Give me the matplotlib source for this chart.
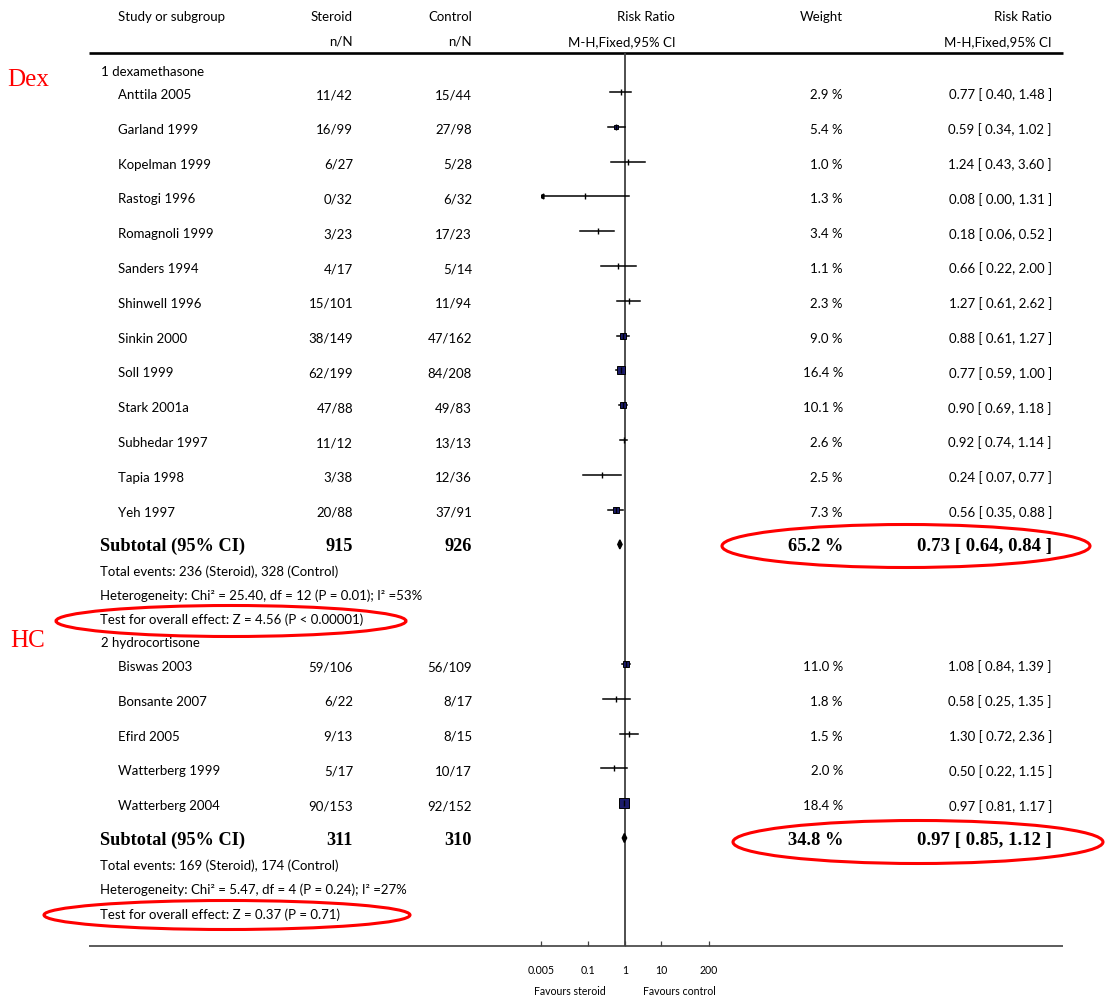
import numpy as np
import matplotlib
matplotlib.use("Agg")
import matplotlib.pyplot as plt
from matplotlib.patches import Ellipse

plt.rcParams['font.family'] = ['Lato', 'DejaVu Sans']

# ---- data: dexamethasone subgroup ----
dex_studies = ["Anttila 2005", "Garland 1999", "Kopelman 1999", "Rastogi 1996",
               "Romagnoli 1999", "Sanders 1994", "Shinwell 1996", "Sinkin 2000",
               "Soll 1999", "Stark 2001a", "Subhedar 1997", "Tapia 1998", "Yeh 1997"]
dex_ev_s = [11, 16, 6, 0, 3, 4, 15, 38, 62, 47, 11, 3, 20]
dex_n_s = [42, 99, 27, 32, 23, 17, 101, 149, 199, 88, 12, 38, 88]
dex_ev_c = [15, 27, 5, 6, 17, 5, 11, 47, 84, 49, 13, 12, 37]
dex_n_c = [44, 98, 28, 32, 23, 14, 94, 162, 208, 83, 13, 36, 91]
dex_weight = [2.9, 5.4, 1.0, 1.3, 3.4, 1.1, 2.3, 9.0, 16.4, 10.1, 2.6, 2.5, 7.3]
dex_rr = [0.77, 0.59, 1.24, 0.08, 0.18, 0.66, 1.27, 0.88, 0.77, 0.90, 0.92, 0.24, 0.56]
dex_lo = [0.40, 0.34, 0.43, 0.00, 0.06, 0.22, 0.61, 0.61, 0.59, 0.69, 0.74, 0.07, 0.35]
dex_hi = [1.48, 1.02, 3.60, 1.31, 0.52, 2.00, 2.62, 1.27, 1.00, 1.18, 1.14, 0.77, 0.88]
dex_total = [915, 926]
dex_sub = [65.2, 0.73, 0.64, 0.84]
dex_notes = ["Total events: 236 (Steroid), 328 (Control)",
             "Heterogeneity: Chi² = 25.40, df = 12 (P = 0.01); I² =53%",
             "Test for overall effect: Z = 4.56 (P < 0.00001)"]

# ---- data: hydrocortisone subgroup ----
hc_studies = ["Biswas 2003", "Bonsante 2007", "Efird 2005", "Watterberg 1999", "Watterberg 2004"]
hc_ev_s = [59, 6, 9, 5, 90]
hc_n_s = [106, 22, 13, 17, 153]
hc_ev_c = [56, 8, 8, 10, 92]
hc_n_c = [109, 17, 15, 17, 152]
hc_weight = [11.0, 1.8, 1.5, 2.0, 18.4]
hc_rr = [1.08, 0.58, 1.30, 0.50, 0.97]
hc_lo = [0.84, 0.25, 0.72, 0.22, 0.81]
hc_hi = [1.39, 1.35, 2.36, 1.15, 1.17]
hc_total = [311, 310]
hc_sub = [34.8, 0.97, 0.85, 1.12]
hc_notes = ["Total events: 169 (Steroid), 174 (Control)",
            "Heterogeneity: Chi² = 5.47, df = 4 (P = 0.24); I² =27%",
            "Test for overall effect: Z = 0.37 (P = 0.71)"]

ticks = [0.005, 0.1, 1, 10, 200]
tick_labels = ["0.005", "0.1", "1", "10", "200"]

# ---- layout (pixel coordinates) ----
W, H = 1111, 997
X_NAME, X_HEAD, X_STER, X_CTRL, X_WT, X_RR = 118, 100, 353, 472, 843, 1052
LINE_L, LINE_R, Y_TOP, Y_BOT = 89, 1063, 53, 945.5
STEP = 34.8
FS = 9.5
SERIF = ['Liberation Serif', 'DejaVu Serif']
BOX = '#1b1b6b'

fig = plt.figure(figsize=(W / 100, H / 100), dpi=100)
ax = fig.add_axes([0, 0, 1, 1])
ax.set_xlim(0, W)
ax.set_ylim(H, 0)
ax.axis('off')

fax = fig.add_axes([540.7 / W, (H - Y_BOT) / H, (709 - 540.7) / W, (Y_BOT - Y_TOP) / H])
fax.set_facecolor('none')
fax.set_xscale('log')
fax.set_xlim(0.005, 200)
fax.set_ylim(Y_BOT, Y_TOP)
for s in fax.spines.values():
    s.set_visible(False)
fax.set_yticks([])
fax.minorticks_off()
fax.set_xticks(ticks)
fax.set_xticklabels(tick_labels, fontsize=7.6)
fax.tick_params(axis='x', direction='in', length=3.5, width=0.9, pad=14, color='#404040')
fax.axvline(1, color='#404040', lw=1.3, zorder=1)

# header
for txt, x, ha in [("Study or subgroup", X_NAME, 'left'), ("Steroid", X_STER, 'right'),
                   ("Control", X_CTRL, 'right'), ("Risk Ratio", 675, 'right'),
                   ("Weight", X_WT, 'right'), ("Risk Ratio", X_RR, 'right')]:
    ax.text(x, 17, txt, ha=ha, va='center', fontsize=FS)
for txt, x in [("n/N", X_STER), ("n/N", X_CTRL), ("M-H,Fixed,95% CI", 676), ("M-H,Fixed,95% CI", X_RR)]:
    ax.text(x, 42, txt, ha='right', va='center', fontsize=FS)
ax.plot([LINE_L, LINE_R], [Y_TOP, Y_TOP], color='black', lw=1.9, solid_capstyle='butt')
ax.plot([LINE_L, LINE_R], [Y_BOT, Y_BOT], color='#404040', lw=1.2, solid_capstyle='butt')


def draw_group(heading, y_head, y0, studies, ev_s, n_s, ev_c, n_c, wt, rr, lo, hi,
               total, sub, notes, note_ys):
    ax.text(X_HEAD + 1, y_head, heading, ha='left', va='center', fontsize=FS)
    xmin = fax.get_xlim()[0]
    for i, name in enumerate(studies):
        y = y0 + i * STEP
        ty = y + 3
        ax.text(X_NAME, ty, name, ha='left', va='center', fontsize=FS)
        ax.text(X_STER, ty, f"{ev_s[i]}/{n_s[i]}", ha='right', va='center', fontsize=FS)
        ax.text(X_CTRL, ty, f"{ev_c[i]}/{n_c[i]}", ha='right', va='center', fontsize=FS)
        ax.text(X_WT, ty, f"{wt[i]:.1f} %", ha='right', va='center', fontsize=FS)
        ax.text(X_RR, ty, f"{rr[i]:.2f} [ {lo[i]:.2f}, {hi[i]:.2f} ]", ha='right', va='center', fontsize=FS)
        left = max(lo[i], xmin)
        fax.plot([left, hi[i]], [y, y], color='black', lw=1.1, zorder=2)
        if lo[i] < xmin:
            fax.plot(xmin, y, marker='<', ms=3.5, color='black', zorder=3)
        side = 2.1 * np.sqrt(wt[i]) * 0.72
        if wt[i] >= 5:
            fax.plot(rr[i], y, marker='s', ms=side, mfc=BOX, mec='black', mew=0.7, zorder=3)
        fax.plot(rr[i], y, marker='|', ms=4.5, mew=1.0, color='black', zorder=4)
    ys = y0 + len(studies) * STEP
    ty = ys + 2
    bold = dict(va='center', fontweight='bold', family=SERIF)
    ax.text(X_HEAD, ty, "Subtotal (95% CI)", ha='left', fontsize=13.2, **bold)
    ax.text(X_STER, ty, f"{total[0]}", ha='right', fontsize=13.2, **bold)
    ax.text(X_CTRL, ty, f"{total[1]}", ha='right', fontsize=13.2, **bold)
    ax.text(X_WT, ty, f"{sub[0]:.1f} %", ha='right', fontsize=13.3, **bold)
    ax.text(X_RR, ty, f"{sub[1]:.2f} [ {sub[2]:.2f}, {sub[3]:.2f} ]", ha='right', fontsize=13.5, **bold)
    fax.fill([sub[2], sub[1], sub[3], sub[1]], [ys, ys - 4.5, ys, ys + 4.5], color='black', zorder=3)
    for txt, ny in zip(notes, note_ys):
        ax.text(X_HEAD, ny, txt, ha='left', va='center', fontsize=FS)


draw_group("1 dexamethasone", 72, 92, dex_studies, dex_ev_s, dex_n_s, dex_ev_c, dex_n_c,
           dex_weight, dex_rr, dex_lo, dex_hi, dex_total, dex_sub, dex_notes, [572, 596, 620])
draw_group("2 hydrocortisone", 643, 664, hc_studies, hc_ev_s, hc_n_s, hc_ev_c, hc_n_c,
           hc_weight, hc_rr, hc_lo, hc_hi, hc_total, hc_sub, hc_notes, [866, 890, 915])

# axis captions
ax.text(606, 991, "Favours steroid", ha='right', va='center', fontsize=7.6)
ax.text(643, 991, "Favours control", ha='left', va='center', fontsize=7.6)

# red annotations
ax.text(7, 80, "Dex", ha='left', va='center', fontsize=18, color='red', family=SERIF)
ax.text(10, 641, "HC", ha='left', va='center', fontsize=18, color='red', family=SERIF)
for cx, cy, w, h in [(906, 546, 368, 43), (231, 621, 350, 31), (918, 842, 370, 43), (227, 915, 366, 29)]:
    ax.add_patch(Ellipse((cx, cy), w, h, fill=False, ec='red', lw=2.2))

fig.savefig("out.png", dpi=100)
